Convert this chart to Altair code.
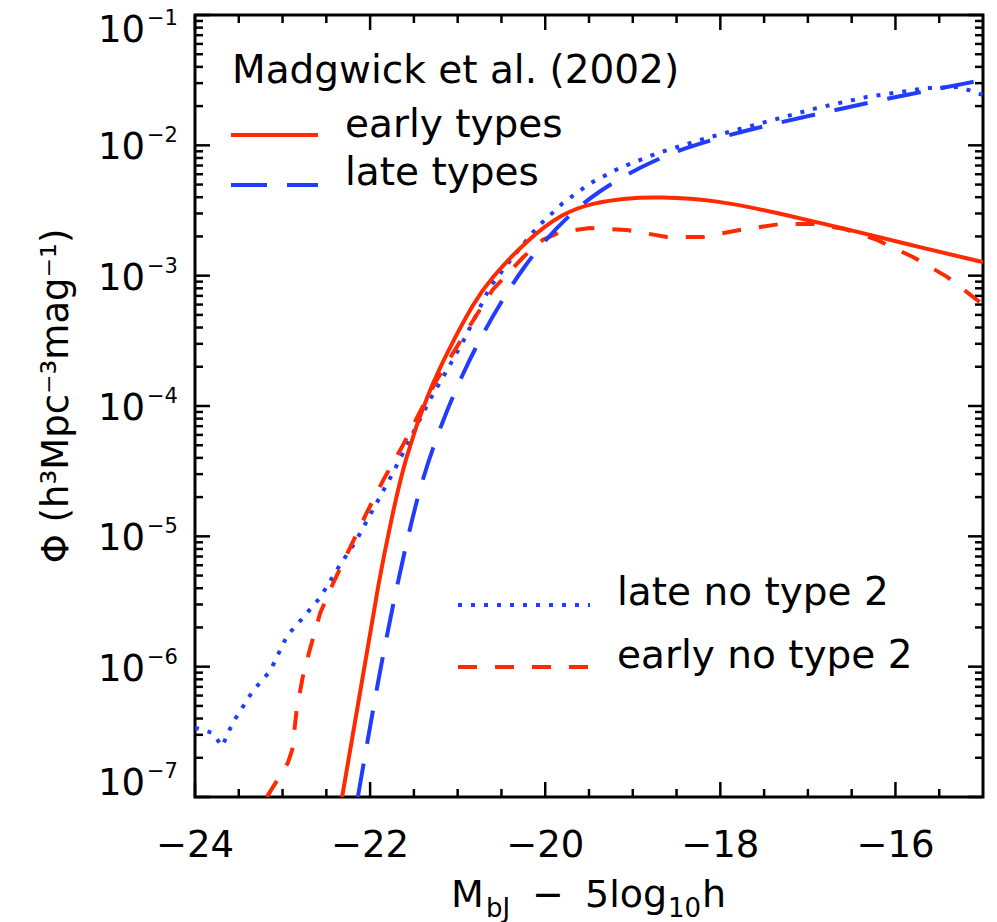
import altair as alt
import pandas as pd

# ---------------- data ----------------
# Madgwick et al. (2002) early types (solid red)
early_M = [-22.32, -22.07, -21.90, -21.76, -21.60, -21.34, -21.10, -20.81, -20.64, -20.21,
           -19.80, -19.46, -19.07, -18.72, -18.04, -17.35, -16.60, -15.83, -15.00]
early_phi = [1.0e-7, 9.4e-7, 4.6e-6, 1.33e-5, 4.0e-5, 1.26e-4, 2.75e-4, 6.3e-4, 9.2e-4, 1.88e-3,
             3.03e-3, 3.61e-3, 3.94e-3, 4.02e-3, 3.81e-3, 3.03e-3, 2.32e-3, 1.72e-3, 1.27e-3]

# Madgwick et al. (2002) late types (long-dashed blue)
late_M = [-22.14, -21.85, -21.58, -21.40, -21.17, -20.94, -20.71, -20.48, -20.25,
          -20.03, -19.75, -19.41, -18.92, -18.43, -17.70, -16.94, -16.18, -15.00]
late_phi = [1.0e-7, 1.34e-6, 9.4e-6, 2.85e-5, 7.8e-5, 1.79e-4, 3.63e-4, 6.7e-4, 1.15e-3,
            1.78e-3, 2.82e-3, 4.39e-3, 6.8e-3, 9.55e-3, 1.31e-2, 1.71e-2, 2.23e-2, 3.17e-2]

# late no type 2 (dotted blue)
late_not2_M = [-24.00, -23.80, -23.69, -23.57, -23.34, -23.14, -22.95, -22.77, -22.57,
               -22.34, -22.17, -21.97, -21.74, -21.51, -21.32, -21.12, -20.92, -20.63,
               -20.37, -20.09, -19.80, -19.49, -19.15, -18.72, -18.23, -17.70, -16.90,
               -16.33, -15.64, -15.26, -15.00]
late_not2_phi = [3.4e-7, 3.1e-7, 2.45e-7, 3.7e-7, 6.5e-7, 9.3e-7, 1.72e-6, 2.36e-6, 3.4e-6,
                 6.1e-6, 9.0e-6, 1.59e-5, 3.06e-5, 6.2e-5, 1.11e-4, 1.89e-4, 3.3e-4, 8.2e-4,
                 1.39e-3, 2.36e-3, 3.6e-3, 5.1e-3, 6.7e-3, 8.7e-3, 1.10e-2, 1.38e-2, 1.93e-2,
                 2.35e-2, 2.75e-2, 2.8e-2, 2.43e-2]

# early no type 2 (dashed red)
early_not2_M = [-23.18, -22.94, -22.89, -22.84, -22.77, -22.69, -22.57, -22.42, -22.26,
                -22.04, -21.85, -21.64, -21.45, -21.24, -21.03, -20.80, -20.60, -20.25,
                -20.03, -19.83, -19.49, -19.07, -18.61, -18.20, -17.78, -17.32, -16.94,
                -16.58, -16.21, -15.80, -15.41, -15.00]
early_not2_phi = [1.0e-7, 1.82e-7, 2.3e-7, 4.6e-7, 8.3e-7, 1.34e-6, 2.58e-6, 4.4e-6, 7.4e-6,
                  1.51e-5, 2.7e-5, 4.8e-5, 8.5e-5, 1.58e-4, 2.7e-4, 4.8e-4, 7.8e-4, 1.39e-3,
                  1.88e-3, 2.16e-3, 2.32e-3, 2.24e-3, 1.98e-3, 1.98e-3, 2.24e-3, 2.49e-3, 2.49e-3,
                  2.28e-3, 1.88e-3, 1.39e-3, 9.8e-4, 6.0e-4]

# axis ticks and tick labels
x_major = [-24, -22, -20, -18, -16]
x_major_labels = ["−24", "−22", "−20", "−18", "−16"]
x_minor = [-23.5, -23, -22.5, -21.5, -21, -20.5, -19.5, -19, -18.5, -17.5, -17, -16.5, -15.5]
y_major_exp = [-7, -6, -5, -4, -3, -2, -1]
y_major_exp_labels = ["−7", "−6", "−5", "−4", "−3", "−2", "−1"]
y_minor_mult = [2, 3, 4, 5, 6, 7, 8, 9]

# ---------------- styling ----------------
W, H = 788, 782
RED, BLUE = "#ff2a00", "#1f3cff"
FONT = "DejaVu Sans"
FS = 37

xscale = alt.Scale(domain=[-24, -15], nice=False, zero=False)
yscale = alt.Scale(type="log", domain=[1e-7, 1e-1], nice=False)

y_major = [10.0 ** e for e in y_major_exp]
y_minor = [m * 10.0 ** e for e in y_major_exp[:-1] for m in y_minor_mult]


def curve(M, phi, color, dash, interp):
    df = pd.DataFrame({"M": M, "phi": phi})
    kw = dict(color=color, strokeWidth=4, clip=True, interpolate=interp, strokeCap="butt")
    if dash:
        kw["strokeDash"] = dash
    return alt.Chart(df).mark_line(**kw).encode(
        x=alt.X("M:Q", scale=xscale, axis=None),
        y=alt.Y("phi:Q", scale=yscale, axis=None),
        order=alt.Order("M:Q"),
    )


def xticks(vals, length):
    df = pd.DataFrame({"t": vals})
    base = alt.Chart(df).mark_rule(color="black", strokeWidth=2.5)
    bottom = base.encode(x=alt.X("t:Q", scale=xscale, axis=None), y=alt.value(H), y2=alt.value(H - length))
    top = base.encode(x=alt.X("t:Q", scale=xscale, axis=None), y=alt.value(0), y2=alt.value(length))
    return [bottom, top]


def yticks(vals, length):
    df = pd.DataFrame({"v": vals})
    base = alt.Chart(df).mark_rule(color="black", strokeWidth=2.5)
    left = base.encode(y=alt.Y("v:Q", scale=yscale, axis=None), x=alt.value(0), x2=alt.value(length))
    right = base.encode(y=alt.Y("v:Q", scale=yscale, axis=None), x=alt.value(W), x2=alt.value(W - length))
    return [left, right]


# tick labels drawn through the scales
xlab_df = pd.DataFrame({"t": x_major, "lab": x_major_labels})
x_labels = alt.Chart(xlab_df).mark_text(fontSize=FS, font=FONT, color="black", align="center",
                                        baseline="alphabetic").encode(
    x=alt.X("t:Q", scale=xscale, axis=None), y=alt.value(H + 60), text="lab:N")

ylab_df = pd.DataFrame({"v": y_major, "e": y_major_exp, "exp": y_major_exp_labels,
                        "base": ["10"] * len(y_major)})


def ylabels(filt, shift):
    src = alt.Chart(ylab_df).transform_filter(filt)
    base = src.mark_text(fontSize=FS, font=FONT, color="black", align="right",
                         baseline="alphabetic", dy=14 + shift).encode(
        y=alt.Y("v:Q", scale=yscale, axis=None), x=alt.value(-50), text="base:N")
    exp = src.mark_text(fontSize=21, font=FONT, color="black", align="left",
                        baseline="alphabetic", dy=-3 + shift).encode(
        y=alt.Y("v:Q", scale=yscale, axis=None), x=alt.value(-48), text="exp:N")
    return [base, exp]


one = pd.DataFrame({"k": [0]})


def label(text, x, y, size=FS, align="left", angle=0):
    kw = dict(text=text, align=align, baseline="alphabetic", fontSize=size, font=FONT, color="black")
    if angle:
        kw["angle"] = angle
    return alt.Chart(one).mark_text(**kw).encode(x=alt.value(x), y=alt.value(y))


def legend_line(color, dash, x1, x2, y):
    kw = dict(color=color, strokeWidth=4, strokeCap="butt")
    if dash:
        kw["strokeDash"] = dash
    return alt.Chart(one).mark_rule(**kw).encode(x=alt.value(x1), x2=alt.value(x2), y=alt.value(y))


layers = []
layers += xticks(x_major, 15)
layers += xticks(x_minor, 8)
layers += yticks(y_major, 15)
layers += yticks(y_minor, 8)
layers += [x_labels]
layers += ylabels("datum.e > -7 && datum.e < -1", 0)
layers += ylabels("datum.e == -1", 13)
layers += ylabels("datum.e == -7", -16)

layers += [
    curve(late_not2_M, late_not2_phi, BLUE, [4, 9], "linear"),
    curve(early_not2_M, early_not2_phi, RED, [19, 18], "linear"),
    curve(late_M, late_phi, BLUE, [34, 20], "basis"),
    curve(early_M, early_phi, RED, None, "basis"),
]

LFS = 39
layers += [
    label("Madgwick et al. (2002)", 37, 68, LFS),
    legend_line(RED, None, 36, 123, 120),
    label("early types", 150, 122, LFS),
    legend_line(BLUE, [36, 20], 36, 123, 170),
    label("late types", 150, 170, LFS),
    legend_line(BLUE, [4, 9], 263, 395, 590),
    label("late no type 2", 422, 590, LFS),
    legend_line(RED, [19, 18], 263, 393, 652),
    label("early no type 2", 422, 653, LFS),
]

# axis titles
layers += [
    label("M", 256, 892, 38),
    label("bJ", 291, 902, 26),
    label("−", 353, 892, 38, "center"),
    label("5log", 390, 892, 38),
    label("10", 473, 902, 26),
    label("h", 507, 892, 38),
    label("Φ (h³Mpc⁻³mag⁻¹)", -127, 381, FS, "center", 270),
]

chart = alt.layer(*layers).properties(
    width=W, height=H,
    autosize=alt.AutoSizeParams(type="none"),
    padding={"left": 195, "top": 15, "right": 14, "bottom": 125},
).configure_view(stroke="black", strokeWidth=3)

chart.save("out.html", embed_options={"renderer": "svg", "actions": False})
